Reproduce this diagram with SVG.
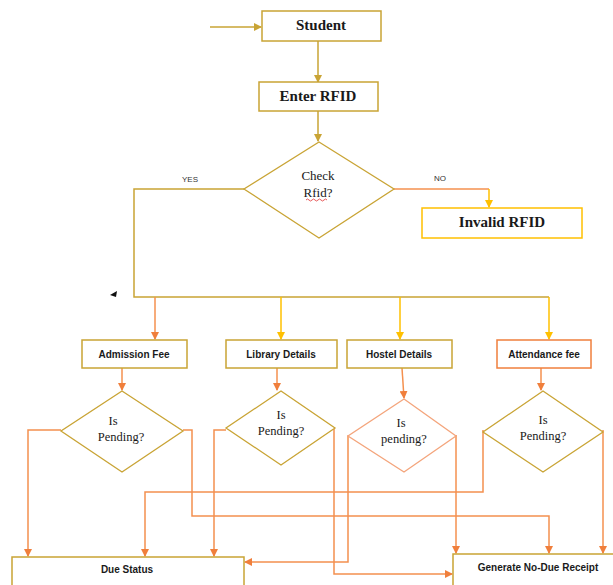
<svg xmlns="http://www.w3.org/2000/svg" width="613" height="585" viewBox="0 0 613 585">
<style>
.box{fill:#fff;stroke:#C9A435;stroke-width:1.5}
.dia{fill:#fff;stroke:#C9A435;stroke-width:1.3}
.ttl{font-family:"Liberation Serif",serif;font-weight:bold;font-size:15px;fill:#1a1a1a;text-anchor:middle}
.q{font-family:"Liberation Serif",serif;font-size:12.5px;fill:#1a1a1a;text-anchor:middle}
.c{font-family:"Liberation Serif",serif;font-size:13px;fill:#1a1a1a;text-anchor:middle}
.lbl{font-family:"Liberation Sans",Arial,sans-serif;font-weight:bold;font-size:10px;fill:#1a1a1a;text-anchor:middle}
.yn{font-family:"Liberation Sans",Arial,sans-serif;font-size:8px;fill:#333;text-anchor:middle}
.g{fill:none;stroke:#C9A435;stroke-width:1.5}
.y{fill:none;stroke:#FFC000;stroke-width:1.5}
.o{fill:none;stroke:#F4904F;stroke-width:1.5}
</style>
<defs>
<marker id="ag" markerWidth="8" markerHeight="8" refX="7" refY="4" orient="auto" markerUnits="userSpaceOnUse"><path d="M0,0 L8,4 L0,8 z" fill="#C9A435"/></marker>
<marker id="ay" markerWidth="8" markerHeight="8" refX="7" refY="4" orient="auto" markerUnits="userSpaceOnUse"><path d="M0,0 L8,4 L0,8 z" fill="#FFC000"/></marker>
<marker id="ao" markerWidth="8" markerHeight="8" refX="7" refY="4" orient="auto" markerUnits="userSpaceOnUse"><path d="M0,0 L8,4 L0,8 z" fill="#F07F3C"/></marker>
</defs>
<g id="connectors">
<path class="g" d="M210,27 L261,27" marker-end="url(#ag)"/>
<path class="g" d="M318,41 L318,82" marker-end="url(#ag)"/>
<path class="g" d="M318,111 L318,141" marker-end="url(#ag)"/>
<path class="g" d="M244,189 L134,189 L134,297 L549,297"/>
<path class="o" d="M394,189 L489,189"/>
<path class="y" d="M489,189 L489,207" marker-end="url(#ay)"/>
<path class="o" d="M155,297 L155,339" marker-end="url(#ao)"/>
<path class="y" d="M281,297 L281,339" marker-end="url(#ay)"/>
<path class="y" d="M400,297 L400,339" marker-end="url(#ay)"/>
<path class="y" d="M549,297 L549,339" marker-end="url(#ay)"/>
<path class="o" d="M122,368 L122,390" marker-end="url(#ao)"/>
<path class="o" d="M277,368 L277,390" marker-end="url(#ao)"/>
<path class="o" d="M402,368 L404,398" marker-end="url(#ao)"/>
<path class="o" d="M541,368 L541,390" marker-end="url(#ao)"/>
<path class="o" d="M61,430 L28,430 L28,556" marker-end="url(#ao)"/>
<path class="o" d="M183,430 L192,430 L192,516 L549,516 L549,553" marker-end="url(#ao)"/>
<path class="o" d="M226,430 L214,430 L214,556" marker-end="url(#ao)"/>
<path class="o" d="M335,428 L334,428 L334,574 L452,574" marker-end="url(#ao)"/>
<path class="o" d="M349,436 L348,436 L348,562 L245,562" marker-end="url(#ao)"/>
<path class="o" d="M456,435 L456,553" marker-end="url(#ao)"/>
<path class="o" d="M483,430 L483,492 L145,492 L145,556" marker-end="url(#ao)"/>
<path class="o" d="M603,430 L603,553" marker-end="url(#ao)"/>
<path d="M110,295 L117,291 L116,297 z" fill="#111"/>
<text class="yn" x="190" y="182">YES</text>
<text class="yn" x="440" y="181">NO</text>
</g>
<g id="student"><rect class="box" x="262" y="11" width="119" height="30"/><text class="ttl" x="321" y="30">Student</text></g>
<g id="enter-rfid"><rect class="box" x="259" y="82" width="119" height="29"/><text class="ttl" x="318" y="101">Enter RFID</text></g>
<g id="check-rfid"><polygon class="dia" points="319,142 394,189 319,238 244,189"/><text class="c" x="318" y="180">Check</text><text class="c" x="318" y="197">Rfid?</text><path d="M306,200 q1.5,-2 3,0 t3,0 t3,0 t3,0 t3,0 t3,0 t3,0" fill="none" stroke="#e03030" stroke-width="0.8"/></g>
<g id="invalid-rfid"><rect class="box" x="422" y="208" width="160" height="30" style="stroke:#FFC000"/><text class="ttl" x="502" y="227">Invalid RFID</text></g>
<g id="admission-fee"><rect class="box" x="82" y="340" width="105" height="28"/><text class="lbl" x="134" y="358">Admission Fee</text></g>
<g id="library-details"><rect class="box" x="226" y="340" width="111" height="28"/><text class="lbl" x="281" y="358">Library Details</text></g>
<g id="hostel-details"><rect class="box" x="347" y="340" width="105" height="28"/><text class="lbl" x="399" y="358">Hostel Details</text></g>
<g id="attendance-fee"><rect class="box" x="497" y="340" width="94" height="28" style="stroke:#F07F3C"/><text class="lbl" x="544" y="358">Attendance fee</text></g>
<g id="pending-1"><polygon class="dia" points="122,391 183,431 122,472 61,431"/><text class="q" x="113" y="425">Is</text><text class="q" x="121" y="441">Pending?</text></g>
<g id="pending-2"><polygon class="dia" points="281,391 335,428 281,465 226,428"/><text class="q" x="281" y="419">Is</text><text class="q" x="281" y="435">Pending?</text></g>
<g id="pending-3"><polygon class="dia" points="404,399 456,436 404,472 348,436" style="stroke:#F4A57C"/><text class="q" x="401" y="427">Is</text><text class="q" x="404" y="443">pending?</text></g>
<g id="pending-4"><polygon class="dia" points="543,391 603,432 543,472 483,432"/><text class="q" x="543" y="424">Is</text><text class="q" x="543" y="440">Pending?</text></g>
<g id="due-status"><rect class="box" x="12" y="557" width="232" height="40"/><text class="lbl" x="127" y="573">Due Status</text></g>
<g id="generate-receipt"><rect class="box" x="453" y="554" width="170" height="40"/><text class="lbl" x="538" y="571">Generate No-Due Receipt</text></g>
</svg>
